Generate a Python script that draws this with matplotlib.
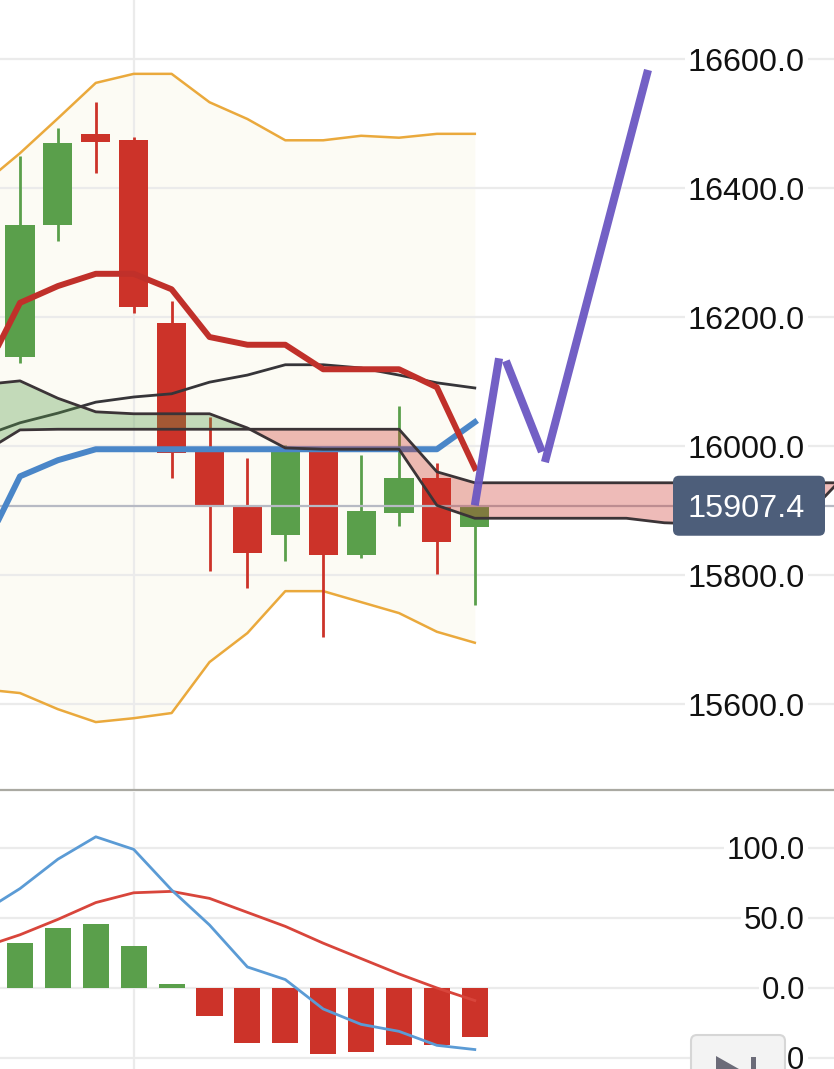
import matplotlib
matplotlib.use("Agg")
import matplotlib.pyplot as plt
from matplotlib.patches import FancyBboxPatch, Polygon, Rectangle

plt.rcParams["font.family"] = ["Liberation Sans", "DejaVu Sans"]

# ---- data -------------------------------------------------------------
candle_x = list(range(0, 13))
opens = [16138, 16343, 16484, 16474, 16191, 15994, 15909, 15862, 15994, 15831, 15896, 15950, 15874]
highs = [16450, 16493, 16533, 16479, 16225, 16045, 15981, 16002, 15997, 15986, 16062, 15974, 15912]
lows = [16129, 16318, 16423, 16206, 15950, 15806, 15780, 15822, 15704, 15826, 15876, 15802, 15753]
closes = [16343, 16470, 16471, 16216, 15989, 15905, 15834, 15994, 15831, 15899, 15950, 15851, 15907.4]
last_price = 15907.4

line_x = list(range(-1, 13))
bb_upper = [16405, 16454, 16508, 16563, 16577, 16577, 16533, 16507, 16474, 16474, 16481, 16478, 16484, 16484]
bb_lower = [15623, 15617, 15592, 15572, 15578, 15586, 15665, 15710, 15775, 15775, 15758, 15741, 15712, 15695]
ma_red = [16106, 16222, 16248, 16267, 16267, 16243, 16169, 16157, 16157, 16119, 16119, 16119, 16091, 15966]
ma_blue = [15834, 15953, 15978, 15995, 15995, 15995, 15995, 15995, 15995, 15995, 15995, 15995, 15995, 16037]
base_line = [16015, 16036, 16051, 16068, 16076, 16081, 16099, 16110, 16126, 16126, 16121, 16110, 16098, 16090]

cloud_x = list(range(-1, 23))
span_a = [16095, 16101, 16074, 16053, 16050, 16050, 16050, 16028, 15997, 15995, 15995, 15995, 15908, 15888,
          15888, 15888, 15888, 15888, 15881, 15879, 15879, 15885, 15907, 15969]
span_b = [15989, 16025, 16026, 16026, 16026, 16026, 16026, 16026, 16026, 16026, 16026, 16026, 15960, 15943,
          15943, 15943, 15943, 15943, 15943, 15943, 15943, 15943, 15943, 15943]

pattern_x = [12.0, 12.64, 12.82, 13.77, 13.85, 16.57]
pattern_y = [15908, 16136, 16132, 15991, 15975, 16583]

macd_x = list(range(-1, 13))
macd_line = [54, 71, 92, 108, 99, 70, 45, 15, 6, -15, -26, -31, -41, -44]
signal_line = [29, 38, 49, 61, 68, 69, 64, 54, 44, 32, 21, 10, 0, -9]
histogram = [25, 32, 43, 46, 30, 3, -20, -39, -39, -47, -46, -41, -41, -35]

price_ticks = [15600, 15800, 16000, 16200, 16400, 16600]
macd_ticks = [-50, 0, 50, 100]

GREEN = "#5a9f4b"
RED = "#cc3329"
W, H = 834, 1069

fig = plt.figure(figsize=(W / 100, H / 100), dpi=100)
ax = fig.add_axes([0, 1 - 790 / H, 1, 790 / H])
mx = fig.add_axes([0, 0, 1, (H - 792) / H])

xlim = (-20 / 37.9, (W - 20) / 37.9)

# ---- main panel --------------------------------------------------------
ax.fill_between(line_x, bb_lower, bb_upper, color="#fcfbf4", lw=0, zorder=0.5)
ax.plot(line_x, bb_upper, color="#eaa93c", lw=1.8, zorder=2)
ax.plot(line_x, bb_lower, color="#eaa93c", lw=1.8, zorder=2)

colors = [GREEN if c >= o else RED for o, c in zip(opens, closes)]
ax.vlines(candle_x, lows, highs, colors=colors, lw=2, zorder=3)
ax.bar(candle_x, [c - o for o, c in zip(opens, closes)], bottom=opens,
       width=0.77, color=colors, lw=0, zorder=3)

ax.axhline(last_price, color="#b7bac4", lw=1.6, zorder=3.5)

ax.plot(line_x, base_line, color="#363539", lw=2, zorder=4)
ax.plot(line_x, ma_blue, color="#4a86c8", lw=4.3, zorder=4)
ax.plot(line_x, ma_red, color="#c0302a", lw=4.3, zorder=4)

a_above = [a >= b for a, b in zip(span_a, span_b)]
ax.fill_between(cloud_x, span_a, span_b, where=a_above, interpolate=True,
                color=GREEN, alpha=0.35, lw=0, zorder=4.5)
ax.fill_between(cloud_x, span_a, span_b, where=[not v for v in a_above], interpolate=True,
                color=RED, alpha=0.33, lw=0, zorder=4.5)
ax.plot(cloud_x, span_a, color="#3b3437", lw=2, zorder=5)
ax.plot(cloud_x, span_b, color="#3b3437", lw=2, zorder=5)

for k in range(0, len(pattern_x), 2):
    ax.plot(pattern_x[k:k + 2], pattern_y[k:k + 2], color="#6b57c2", lw=5.8,
            alpha=0.95, solid_capstyle="butt", zorder=6)

ax.set_xlim(*xlim)
ax.set_ylim(15466.7, 16691.5)

# ---- macd panel --------------------------------------------------------
mx.bar(macd_x, histogram, width=0.69, color=[GREEN if v >= 0 else RED for v in histogram], lw=0, zorder=3)
mx.plot(macd_x, signal_line, color="#d8453b", lw=2, zorder=4)
mx.plot(macd_x, macd_line, color="#5b9bd5", lw=2, zorder=4)
mx.set_xlim(*xlim)
mx.set_ylim(-57.9, 140)

for a, ticks, fs in ((ax, price_ticks, 23.3), (mx, macd_ticks, 22.5)):
    a.set_yticks(ticks)
    a.set_yticklabels([f"{t:.1f}" for t in ticks])
    a.yaxis.tick_right()
    a.tick_params(axis="y", length=0, pad=-20.9, labelsize=fs, labelcolor="#111111")
    for lab in a.get_yticklabels():
        lab.set_ha("right")
        lab.set_bbox(dict(facecolor="white", edgecolor="none", pad=2))
    a.set_xticks([3])
    a.tick_params(axis="x", length=0, labelbottom=False)
    a.grid(True, color="#ebebeb", lw=1.6)
    for s in a.spines.values():
        s.set_visible(False)

ax.spines["bottom"].set_visible(True)
ax.spines["bottom"].set_color("#aaa9a2")
ax.spines["bottom"].set_linewidth(1.6)

# ---- overlay: price label and scroll button ----------------------------
ov = fig.add_axes([0, 0, 1, 1], zorder=10)
ov.set_xlim(0, W)
ov.set_ylim(H, 0)
ov.axis("off")

y_last = H - ax.transData.transform((0, last_price))[1]
ov.add_patch(FancyBboxPatch((673, y_last - 30), 152, 60,
                            boxstyle="round,pad=0,rounding_size=6",
                            fc="#4d5e7a", ec="none"))
ov.text(805, y_last, f"{last_price:.1f}", color="white", fontsize=23.3,
        ha="right", va="center_baseline")

ov.add_patch(FancyBboxPatch((691, 1035), 94, 60, boxstyle="round,pad=0,rounding_size=6",
                            fc="#f3f3f3", ec="#d6d6d6", lw=1.5))
ov.add_patch(Polygon([(716, 1056), (716, 1090), (746, 1073)], closed=True, fc="#6b6b78", ec="none"))
ov.add_patch(Rectangle((751, 1057), 5, 30, fc="#6b6b78", ec="none"))

fig.savefig("out.png", dpi=100)
